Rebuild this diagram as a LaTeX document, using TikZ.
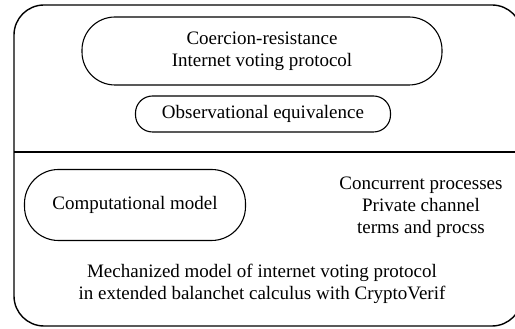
\documentclass[tikz,border=0pt]{standalone}
\usepackage{fontspec}
\setmainfont{Liberation Serif}
\usepackage{tikz}

\begin{document}
\begin{tikzpicture}[x=1pt,y=1pt]
          \tikzset{
            frame/.style={draw, line width=1.4pt, rounded corners=30pt},
            pill/.style={draw, line width=1.1pt, rounded corners=33pt, align=center, font=\fontsize{19}{22}\selectfont},
            label/.style={align=center, font=\fontsize{19}{22}\selectfont}
          }
          \useasboundingbox (0,0) rectangle (515,329);
          % frame
          \draw[frame] (14,3) rectangle (522,324);
          \coordinate (divl) at (14,177);
          \coordinate (divr) at (515,177);
          \draw[line width=1.3pt] (divl) -- (divr);

          % boxes
          \node[pill, minimum width=360pt, minimum height=68pt] (cr) at (262,278) {Coercion-resistance\\Internet voting protocol};
          \node[pill, rounded corners=17pt, minimum width=255pt, minimum height=36pt] (oe) at (263,215) {Observational equivalence};
          \node[pill, rounded corners=34pt, minimum width=221pt, minimum height=71pt] (cm) at (135,124) {Computational model};

          % texts
          \node[label] (cp) at (421,122) {Concurrent processes\\Private channel\\terms and procss};
          \node[label] (mm) at (262,45) {Mechanized model of internet voting protocol\\in extended balanchet calculus with CryptoVerif};
\end{tikzpicture}
\end{document}
